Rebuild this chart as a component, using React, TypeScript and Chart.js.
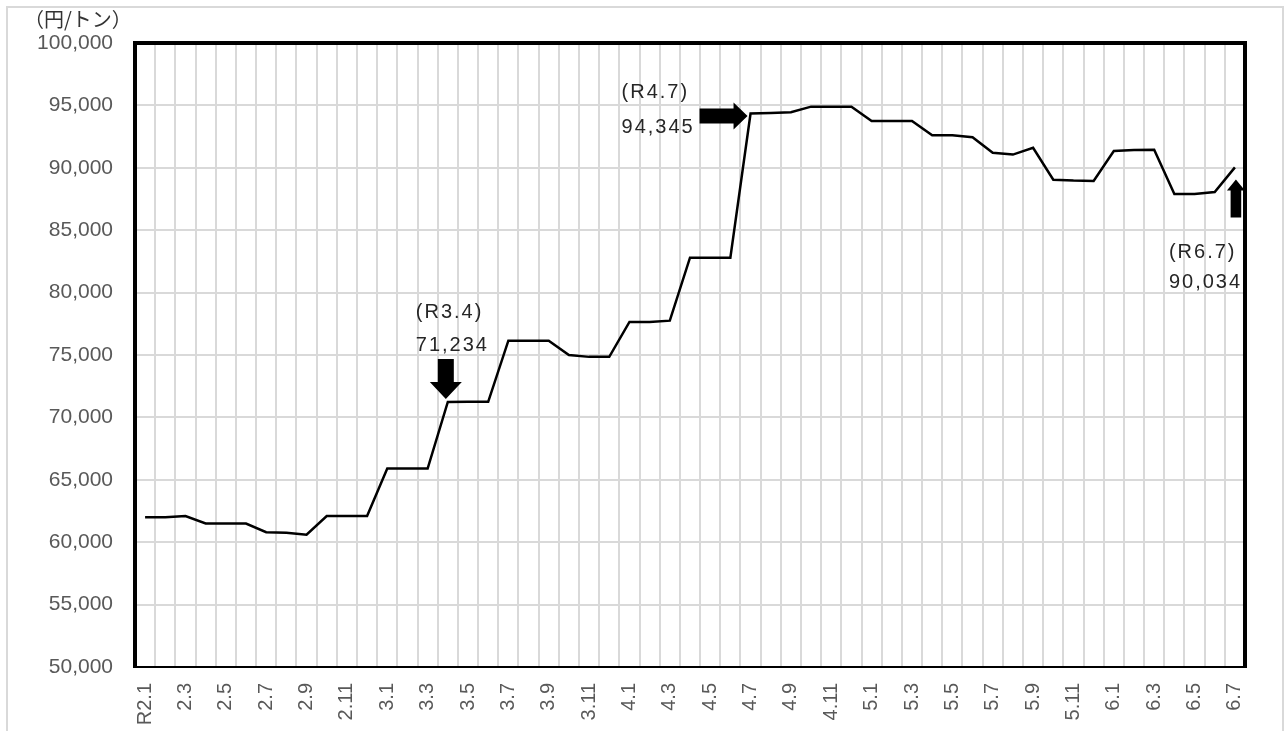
import { useEffect, useRef } from "react";
import { Chart, registerables } from "chart.js";

Chart.register(...registerables);

const months = [
  "R2.1", "2.2", "2.3", "2.4", "2.5", "2.6", "2.7", "2.8", "2.9", "2.10", "2.11", "2.12",
  "3.1", "3.2", "3.3", "3.4", "3.5", "3.6", "3.7", "3.8", "3.9", "3.10", "3.11", "3.12",
  "4.1", "4.2", "4.3", "4.4", "4.5", "4.6", "4.7", "4.8", "4.9", "4.10", "4.11", "4.12",
  "5.1", "5.2", "5.3", "5.4", "5.5", "5.6", "5.7", "5.8", "5.9", "5.10", "5.11", "5.12",
  "6.1", "6.2", "6.3", "6.4", "6.5", "6.6", "6.7",
];

const prices = [
  62000, 62000, 62100, 61500, 61500, 61500, 60800, 60750, 60600, 62100, 62100, 62100,
  65900, 65900, 65900, 71234, 71250, 71250, 76150, 76150, 76150, 75000, 74850, 74850,
  77650, 77650, 77750, 82800, 82800, 82800, 94345, 94400, 94450, 94900, 94900, 94900,
  93750, 93750, 93750, 92600, 92600, 92450, 91200, 91060, 91600, 89050, 88980, 88950,
  91350, 91420, 91450, 87900, 87900, 88060, 90034,
];

const yMin = 50000;
const yMax = 100000;
const yStep = 5000;

const calloutIndex = [15, 30, 54];
const calloutPeriod = ["(R3.4)", "(R4.7)", "(R6.7)"];
const calloutValue = ["71,234", "94,345", "90,034"];
const calloutDirection = ["down", "right", "up"];

const unitLabel = "（円/トン）";

// layout of each callout relative to its data point (styling, not data)
const calloutLayout: Record<string, any> = {
  down: { tdx: -32, t1: -90, t2: -57, ax: -2, ay: -3, headHalf: 16, headLen: 17, shaftHalf: 8, shaftLen: 23, dir: [0, 1] },
  right: { tdx: -129, t1: -21, t2: 14, ax: -3, ay: 2.5, headHalf: 13.5, headLen: 14, shaftHalf: 7.5, shaftLen: 34, dir: [1, 0] },
  up: { tdx: -66, t1: 85, t2: 115, ax: 1, ay: 12, headHalf: 9, headLen: 11, shaftHalf: 5.3, shaftLen: 27, dir: [0, -1] },
};

function drawArrow(ctx: CanvasRenderingContext2D, tx: number, ty: number, L: any) {
  const [dx, dy] = L.dir;
  const nx = -dy;
  const ny = dx;
  const bx = tx - dx * L.headLen;
  const by = ty - dy * L.headLen;
  const ex = tx - dx * (L.headLen + L.shaftLen);
  const ey = ty - dy * (L.headLen + L.shaftLen);
  ctx.beginPath();
  ctx.moveTo(tx, ty);
  ctx.lineTo(bx + nx * L.headHalf, by + ny * L.headHalf);
  ctx.lineTo(bx + nx * L.shaftHalf, by + ny * L.shaftHalf);
  ctx.lineTo(ex + nx * L.shaftHalf, ey + ny * L.shaftHalf);
  ctx.lineTo(ex - nx * L.shaftHalf, ey - ny * L.shaftHalf);
  ctx.lineTo(bx - nx * L.shaftHalf, by - ny * L.shaftHalf);
  ctx.lineTo(bx - nx * L.headHalf, by - ny * L.headHalf);
  ctx.closePath();
  ctx.fill();
}

const decorPlugin = {
  id: "decor",
  beforeDraw(chart: any) {
    const ctx = chart.ctx as CanvasRenderingContext2D;
    ctx.save();
    ctx.strokeStyle = "#d9d9d9";
    ctx.lineWidth = 2;
    ctx.strokeRect(7, 7, 1276, 760);
    ctx.restore();
  },
  afterDatasetsDraw(chart: any) {
    const ctx = chart.ctx as CanvasRenderingContext2D;
    const a = chart.chartArea;
    ctx.save();
    ctx.strokeStyle = "#000";
    ctx.lineJoin = "miter";
    ctx.lineWidth = 4;
    ctx.beginPath();
    ctx.moveTo(a.left, a.bottom);
    ctx.lineTo(a.left, a.top);
    ctx.lineTo(a.right, a.top);
    ctx.lineTo(a.right, a.bottom);
    ctx.stroke();
    ctx.lineWidth = 2;
    ctx.beginPath();
    ctx.moveTo(a.left - 2, a.bottom);
    ctx.lineTo(a.right + 2, a.bottom);
    ctx.stroke();

    // callouts
    const xs = chart.scales.x;
    const ys = chart.scales.y;
    ctx.fillStyle = "#000";
    calloutIndex.forEach((idx, k) => {
      const px = xs.getPixelForValue(idx);
      const py = ys.getPixelForValue(prices[idx]);
      const L = calloutLayout[calloutDirection[k]];
      drawArrow(ctx, px + L.ax, py + L.ay, L);
      ctx.save();
      ctx.fillStyle = "#262626";
      ctx.font = "20px 'Liberation Sans', Arial, sans-serif";
      (ctx as any).letterSpacing = "2px";
      ctx.textAlign = "left";
      ctx.textBaseline = "middle";
      ctx.fillText(calloutPeriod[k], px + L.tdx, py + L.t1);
      ctx.fillText(calloutValue[k], px + L.tdx, py + L.t2);
      ctx.restore();
    });

    // unit label
    ctx.save();
    ctx.fillStyle = "#333";
    ctx.font = "20px 'Noto Sans CJK JP', sans-serif";
    ctx.textAlign = "left";
    ctx.textBaseline = "middle";
    ctx.fillText(unitLabel, 24, 19);
    ctx.restore();
    ctx.restore();
  },
};

export default function App() {
  const ref = useRef<HTMLCanvasElement | null>(null);

  useEffect(() => {
    if (!ref.current) return;
    const chart = new Chart(ref.current, {
      type: "line",
      data: {
        labels: months,
        datasets: [
          {
            data: prices,
            borderColor: "#000",
            borderWidth: 2.5,
            pointRadius: 0,
            tension: 0,
            fill: false,
          },
        ],
      },
      options: {
        animation: false,
        responsive: false,
        maintainAspectRatio: false,
        layout: { padding: { top: 43, right: 40, left: 0, bottom: 0 } },
        plugins: {
          legend: { display: false },
          tooltip: { enabled: false },
        },
        scales: {
          x: {
            type: "category",
            offset: true,
            grid: { offset: true, color: "#d9d9d9", lineWidth: 2, drawTicks: false },
            border: { display: false },
            ticks: {
              autoSkip: false,
              minRotation: 90,
              maxRotation: 90,
              padding: 16,
              color: "#595959",
              font: { family: "'Liberation Sans', Arial, sans-serif", size: 20 },
              callback: (_v: any, i: number) => (i % 2 === 0 ? months[i] : ""),
            },
            afterFit: (s: any) => {
              s.height = 64;
            },
          },
          y: {
            min: yMin,
            max: yMax,
            grid: { color: "#d9d9d9", lineWidth: 2, drawTicks: false },
            border: { display: false },
            ticks: {
              stepSize: yStep,
              padding: 22,
              color: "#595959",
              font: { family: "'Liberation Sans', Arial, sans-serif", size: 21 },
              callback: (v: any) => Number(v).toLocaleString("en-US"),
            },
            afterFit: (s: any) => {
              s.width = 135;
            },
          },
        },
      },
      plugins: [decorPlugin],
    });
    return () => chart.destroy();
  }, []);

  return (
    <div style={{ position: "fixed", left: 0, top: 0, width: 1285, height: 731, background: "#fff" }}>
      <canvas ref={ref} width={1285} height={731} style={{ display: "block" }} />
    </div>
  );
}
